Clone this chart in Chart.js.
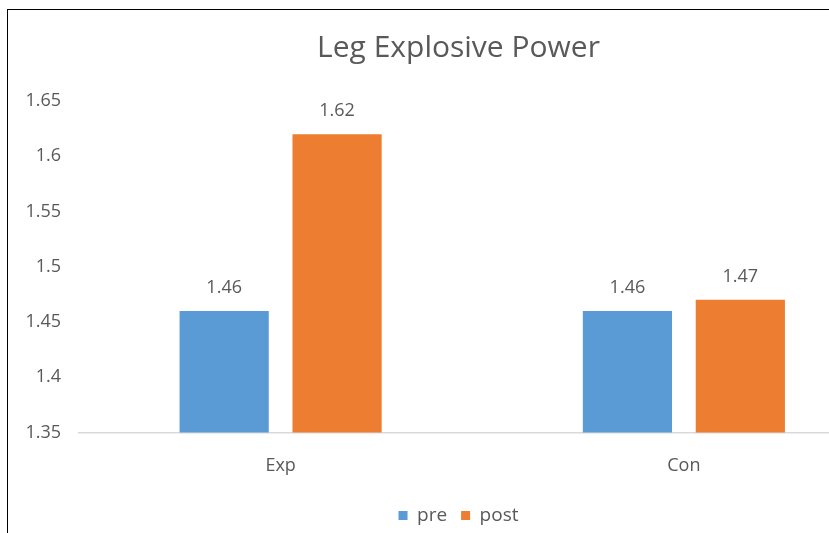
<!DOCTYPE html>
<html>
<head>
<meta charset="utf-8">
<script src="https://cdn.jsdelivr.net/npm/chart.js@4/dist/chart.umd.min.js"></script>
<style>
  html, body { margin: 0; padding: 0; background: #fff; overflow: hidden; width: 829px; height: 533px; }
  #wrap { position: absolute; left: 7px; top: 9px; width: 901px; height: 530px; border-left: 1.5px solid #000; border-top: 1.5px solid #000; background: #fff; }
  canvas { display: block; }
</style>
</head>
<body>
<div id="wrap"><canvas id="c" width="901" height="530"></canvas></div>
<script>
const categories = ["Exp", "Con"];
const preValues = [1.46, 1.46];
const postValues = [1.62, 1.47];
const seriesNames = ["pre", "post"];
const yTicks = [1.35, 1.4, 1.45, 1.5, 1.55, 1.6, 1.65];

const FONT = "'Open Sans', 'Noto Sans', sans-serif";
const TEXT = "#595959";

const dataLabels = {
  id: "dataLabels",
  afterDatasetsDraw(chart) {
    const ctx = chart.ctx;
    ctx.save();
    ctx.fillStyle = TEXT;
    ctx.font = "18px " + FONT;
    ctx.textAlign = "center";
    ctx.textBaseline = "alphabetic";
    chart.data.datasets.forEach((ds, i) => {
      chart.getDatasetMeta(i).data.forEach((bar, j) => {
        ctx.fillText(String(ds.data[j]), bar.x, bar.y - 18);
      });
    });
    ctx.restore();
  }
};

new Chart(document.getElementById("c"), {
  type: "bar",
  data: {
    labels: categories,
    datasets: [
      { label: seriesNames[0], data: preValues, backgroundColor: "#5B9BD5", categoryPercentage: 0.56, barPercentage: 0.79 },
      { label: seriesNames[1], data: postValues, backgroundColor: "#ED7D31", categoryPercentage: 0.56, barPercentage: 0.79 }
    ]
  },
  options: {
    responsive: false,
    animation: false,
    devicePixelRatio: 1,
    layout: { padding: { left: 0, right: 0, top: 20, bottom: 5 } },
    plugins: {
      title: {
        display: true,
        text: "Leg Explosive Power",
        color: TEXT,
        font: { family: FONT, size: 30, weight: "normal" },
        padding: { top: 0, bottom: 35 }
      },
      legend: {
        position: "bottom",
        labels: {
          color: TEXT,
          font: { family: FONT, size: 19 },
          boxWidth: 9,
          boxHeight: 9,
          padding: 14
        }
      },
      tooltip: { enabled: false }
    },
    scales: {
      x: {
        grid: { display: false },
        border: { display: true, color: "#D9D9D9", width: 1.5 },
        ticks: { color: TEXT, font: { family: FONT, size: 18 }, padding: 15 }
      },
      y: {
        min: 1.35,
        max: 1.65,
        afterBuildTicks(scale) { scale.ticks = yTicks.map(v => ({ value: v })); },
        afterFit(scale) { scale.width = 71; },
        grid: { display: false },
        border: { display: false },
        ticks: {
          color: TEXT,
          font: { family: FONT, size: 18 },
          padding: 10,
          callback: (v) => String(Math.round(v * 100) / 100)
        }
      },
      yRight: {
        position: "right",
        min: 1.35,
        max: 1.65,
        afterFit(scale) { scale.width = 23.5; },
        grid: { display: false },
        border: { display: false },
        ticks: { display: false }
      }
    }
  },
  plugins: [dataLabels]
});
</script>
</body>
</html>
